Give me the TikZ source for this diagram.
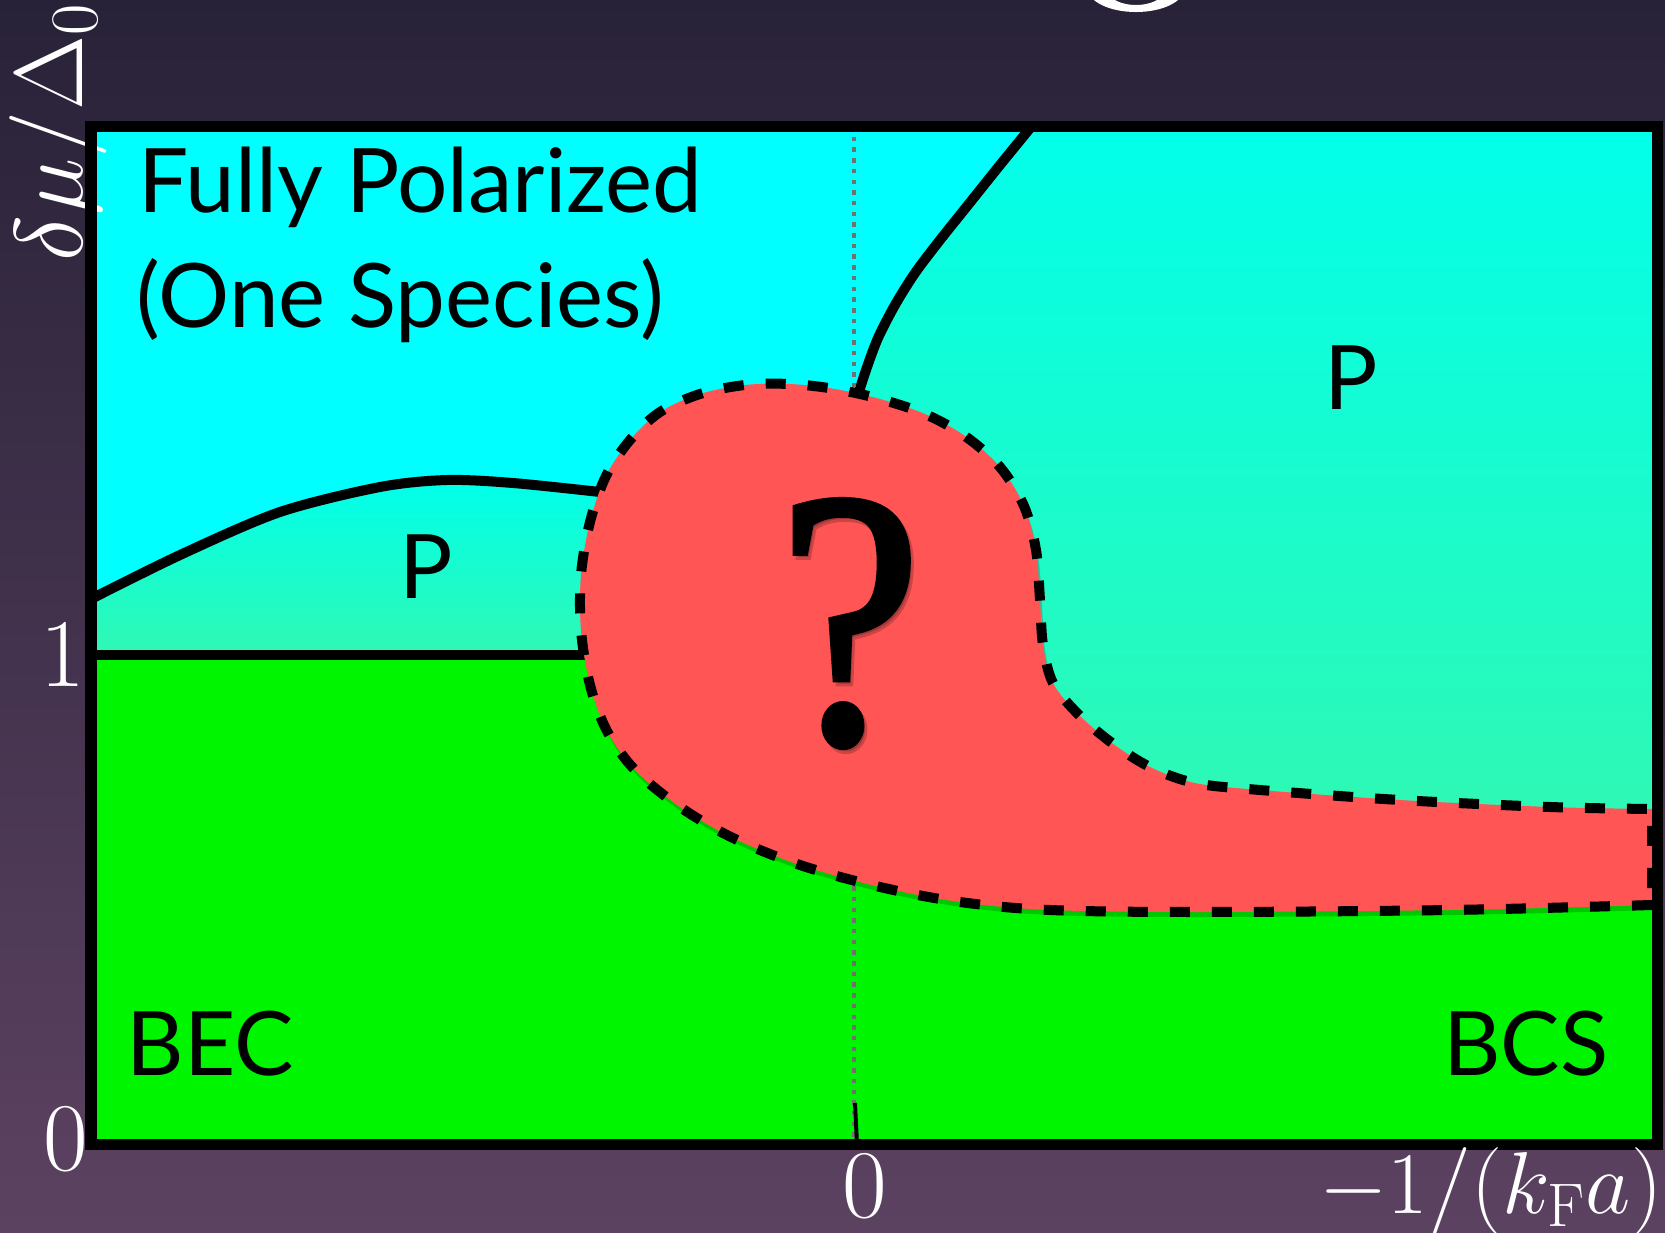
\RequirePackage{fix-cm}
\documentclass[tikz,border=0pt]{standalone}
\usepackage[no-math]{fontspec}
\setmainfont{Lato}
\newfontfamily\qfont[FakeBold=1.6]{Liberation Serif}
\definecolor{bgtop}{RGB}{40,34,56}
\definecolor{bgbot}{RGB}{92,66,97}
\definecolor{fpcyan}{RGB}{0,255,255}
\definecolor{becgreen}{RGB}{0,245,0}
\definecolor{pmtop}{RGB}{0,255,235}
\definecolor{pmbot}{RGB}{48,248,178}
\definecolor{blobred}{RGB}{255,85,85}
\definecolor{dotgray}{RGB}{112,112,112}
\tikzset{
  frameline/.style={line width=0.11cm, draw=black},
  bound/.style={line width=0.1cm, draw=black},
  blobline/.style={line width=0.1cm, draw=black, dash pattern=on 0.2cm off 0.22cm},
  lbl/.style={font=\fontsize{25.3}{30}\selectfont, inner sep=0pt, text=black},
  axl/.style={font=\fontsize{27.6}{33}\selectfont, inner sep=0pt, text=white},
  qmark/.style={anchor=base, inner sep=0pt, font=\qfont\fontsize{104}{104}\selectfont, xscale=0.88},
}
\def\blobshape{plot[smooth, tension=0.55] coordinates {(1652,905) (1450,910) (1200,912) (1050,910) (960,902) (880,887) (800,865) (733,838) (680,807) (635,770) (607,731) (590,685) (581,630) (581,575) (590,522) (606,476) (630,440) (660,412) (700,394) (745,385) (790,384) (835,389) (880,399) (925,414) (965,436) (1000,467) (1024,506) (1036,550) (1040,600) (1043,645) (1053,683) (1078,714) (1112,743) (1150,767) (1195,783) (1260,790) (1400,800) (1550,807) (1652,809)} -- cycle}
\def\toprightcurve{plot[smooth] coordinates {(858,395) (866,370) (878,338) (895,305) (915,273) (940,240) (968,205) (1000,165) (1040,116)}}
\def\leftcurve{plot[smooth] coordinates {(85,602) (180,555) (280,512) (380,487) (447,480) (513,483) (600,492)}}
\begin{document}
\begin{tikzpicture}[x=0.01cm, y=-0.01cm]
\useasboundingbox (0,0) rectangle (1665,1233);
\clip (0,0) rectangle (1665,1233);
% background
\shade[top color=bgtop, bottom color=bgbot] (0,0) rectangle (1665,1233);
% fragment of a title glyph at the top
\fill[white, even odd rule] (1136,-12) ellipse [x radius=0.485cm, y radius=0.24cm] (1136,-15) ellipse [x radius=0.32cm, y radius=0.2cm];
% regions, kept inside the frame
\begin{scope}
\clip (91,126) rectangle (1657,1144);
\fill[becgreen] (91,126) rectangle (1657,1144);
\fill[fpcyan] (91,126) rectangle (1657,656);
\shade[top color=pmtop, bottom color=pmbot] \toprightcurve -- (1657,110) -- (1657,840) -- (1120,790) -- (990,620) -- cycle;
\shade[top color=pmtop, bottom color=pmbot] plot[smooth] coordinates {(85,602) (180,555) (280,512) (380,487) (447,480) (513,483) (600,492) (640,497)} -- (640,655) -- (85,655) -- cycle;
% phase boundaries
\draw[bound] \toprightcurve;
\draw[bound] \leftcurve;
\draw[bound] (85,655) -- (590,655);
% zero line
\draw[dotgray, line width=0.045cm, dash pattern=on 0.045cm off 0.062cm] (854,126) -- (854,1144);
\draw[black, line width=0.04cm] (855,1103) -- (857,1144);
% unknown region
\fill[black, opacity=0.18] [shift={(2,5)}] \blobshape;
\path[fill=blobred, blobline] \blobshape;
\end{scope}
% y axis label (under the frame)
\node[axl, anchor=base west, rotate=90] (yl) at (83,262) {$\delta\mu/\Delta_0$};
% frame
\draw[frameline] (91,126) rectangle (1657,1144);
% labels
\node[lbl, anchor=base west] (fp1) at (138,212) {Fully Polarized};
\node[lbl, anchor=base west] (fp2) at (136,327) {(One Species)};
\node[lbl, anchor=base] (pl) at (426,598) {P};
\node[lbl, anchor=base] (pr) at (1351,409) {P};
\node[lbl, anchor=base] (bec) at (210,1075) {BEC};
\node[lbl, anchor=base] (bcs) at (1526,1075) {BCS};
\node[qmark, text=black, opacity=0.2] (qs) at (853,746) {?};
\node[qmark, text=black] (q) at (850,742) {?};
% axis labels
\node[axl, anchor=base] (one) at (63,686) {$1$};
\node[axl, anchor=base] (zl) at (66,1170) {$0$};
\node[axl, anchor=base] (zb) at (865,1217) {$0$};
\node[axl, anchor=base east, font=\fontsize{25}{30}\selectfont] (xl) at (1663,1213) {$-1/(k_{\mathrm F}a)$};
\end{tikzpicture}
\end{document}
